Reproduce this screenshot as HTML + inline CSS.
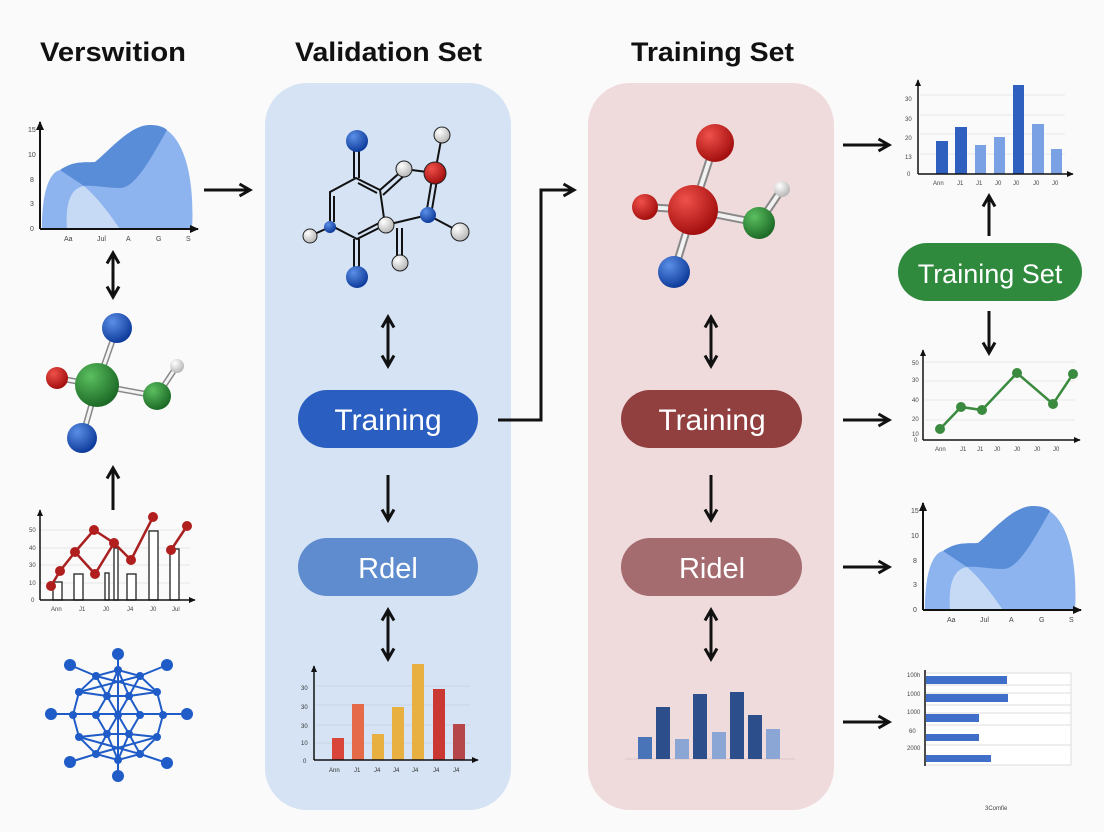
<!DOCTYPE html>
<html><head><meta charset="utf-8"><style>
html,body{margin:0;padding:0;background:#fafafa;}
svg{display:block;font-family:"Liberation Sans",sans-serif;}
</style></head><body>
<svg width="1104" height="832" viewBox="0 0 1104 832" xmlns="http://www.w3.org/2000/svg">
<defs>
<marker id="ah" viewBox="0 0 10 10" refX="8" refY="5" markerWidth="5" markerHeight="5" orient="auto-start-reverse"><path d="M1,1 L8,5 L1,9" fill="none" stroke="#111" stroke-width="2"/></marker>
<marker id="sm" viewBox="0 0 10 10" refX="8" refY="5" markerWidth="5" markerHeight="5" orient="auto"><path d="M0,1 L9,5 L0,9 Z" fill="#111"/></marker>
<radialGradient id="gb" cx="0.35" cy="0.3" r="0.7"><stop offset="0" stop-color="#5b8fe6"/><stop offset="1" stop-color="#0f3c9c"/></radialGradient>
<radialGradient id="gr" cx="0.35" cy="0.3" r="0.7"><stop offset="0" stop-color="#f0504a"/><stop offset="1" stop-color="#a4100f"/></radialGradient>
<radialGradient id="gg" cx="0.35" cy="0.3" r="0.7"><stop offset="0" stop-color="#5bbf5f"/><stop offset="1" stop-color="#1d6b27"/></radialGradient>
<radialGradient id="gw" cx="0.35" cy="0.3" r="0.7"><stop offset="0" stop-color="#ffffff"/><stop offset="1" stop-color="#b8b8b8"/></radialGradient>
</defs>
<rect width="1104" height="832" fill="#fafafa"/>

<!-- titles -->
<text x="40" y="61" font-size="27" font-weight="bold" fill="#111" textLength="146" lengthAdjust="spacingAndGlyphs">Verswition</text>
<text x="295" y="61" font-size="27" font-weight="bold" fill="#111" textLength="187" lengthAdjust="spacingAndGlyphs">Validation Set</text>
<text x="631" y="61" font-size="27" font-weight="bold" fill="#111" textLength="163" lengthAdjust="spacingAndGlyphs">Training Set</text>

<!-- panels -->
<rect x="265" y="83" width="246" height="727" rx="42" fill="#d5e3f4"/>
<rect x="588" y="83" width="246" height="727" rx="42" fill="#efdbdc"/>

<!-- left area chart -->
<g id="area">
<path d="M42,229 C42,190 50,172 60,170 C75,160 85,163 95,162 C110,150 130,125 150,125 C185,125 195,180 192,229 Z" fill="#8db4ee"/>
<path d="M60,170 C75,160 85,163 95,162 C110,150 130,125 150,125 C160,125 165,128 167,130 C150,160 135,188 120,188 C105,188 95,185 84,186 Z" fill="#5a8dd8"/>
<path d="M67,229 C65,200 72,188 84,186 C100,200 110,215 120,229 Z" fill="#c6daf6"/>
<line x1="40" y1="229" x2="40" y2="122" stroke="#111" stroke-width="2" marker-end="url(#sm)"/>
<line x1="40" y1="229" x2="198" y2="229" stroke="#111" stroke-width="2" marker-end="url(#sm)"/>
<g font-size="7" fill="#444"><text x="28" y="132">15</text><text x="28" y="157">10</text><text x="30" y="182">8</text><text x="30" y="206">3</text><text x="30" y="231">0</text>
<text x="64" y="241">Aa</text><text x="97" y="241">Jul</text><text x="126" y="241">A</text><text x="156" y="241">G</text><text x="186" y="241">S</text></g>
</g>
<use href="#area" transform="translate(883,381)"/>

<!-- left molecule -->
<g stroke="#888" stroke-width="6" stroke-linecap="round">
<line x1="97" y1="385" x2="117" y2="328"/><line x1="97" y1="385" x2="57" y2="378"/><line x1="97" y1="385" x2="157" y2="396"/><line x1="157" y1="396" x2="177" y2="366"/><line x1="97" y1="385" x2="82" y2="438"/></g>
<g stroke="#f4f4f4" stroke-width="3" stroke-linecap="round">
<line x1="97" y1="385" x2="117" y2="328"/><line x1="97" y1="385" x2="57" y2="378"/><line x1="97" y1="385" x2="157" y2="396"/><line x1="157" y1="396" x2="177" y2="366"/><line x1="97" y1="385" x2="82" y2="438"/></g>
<circle cx="117" cy="328" r="15" fill="url(#gb)"/><circle cx="57" cy="378" r="11" fill="url(#gr)"/><circle cx="177" cy="366" r="7" fill="url(#gw)"/><circle cx="157" cy="396" r="14" fill="url(#gg)"/><circle cx="97" cy="385" r="22" fill="url(#gg)"/><circle cx="82" cy="438" r="15" fill="url(#gb)"/>

<!-- left line/bar chart -->
<g stroke="#e6e6e6" stroke-width="1"><line x1="40" y1="530" x2="190" y2="530"/><line x1="40" y1="548" x2="190" y2="548"/><line x1="40" y1="565" x2="190" y2="565"/><line x1="40" y1="583" x2="190" y2="583"/></g>
<g fill="#fff" stroke="#222" stroke-width="1.3">
<rect x="53" y="582" width="9" height="18"/><rect x="74" y="574" width="9" height="26"/><rect x="105" y="573" width="4" height="27"/><rect x="114" y="548" width="4" height="52"/><rect x="127" y="574" width="9" height="26"/><rect x="149" y="531" width="9" height="69"/><rect x="170" y="549" width="9" height="51"/></g>
<g fill="none" stroke="#a82020" stroke-width="2.5"><polyline points="51,586 60,571 75,552 95,574 114,543 131,560 153,517"/><polyline points="75,552 94,530 114,543"/><polyline points="171,550 187,526"/></g>
<g fill="#b01e1e"><circle cx="51" cy="586" r="5"/><circle cx="60" cy="571" r="5"/><circle cx="75" cy="552" r="5"/><circle cx="95" cy="574" r="5"/><circle cx="94" cy="530" r="5"/><circle cx="114" cy="543" r="5"/><circle cx="131" cy="560" r="5"/><circle cx="153" cy="517" r="5"/><circle cx="171" cy="550" r="5"/><circle cx="187" cy="526" r="5"/></g>
<line x1="40" y1="600" x2="40" y2="510" stroke="#111" stroke-width="1.5" marker-end="url(#sm)"/>
<line x1="40" y1="600" x2="195" y2="600" stroke="#111" stroke-width="1.5" marker-end="url(#sm)"/>
<g font-size="6" fill="#444"><text x="29" y="532">50</text><text x="29" y="550">40</text><text x="29" y="567">30</text><text x="29" y="585">10</text><text x="31" y="602">0</text>
<text x="51" y="611">Ann</text><text x="79" y="611">J1</text><text x="103" y="611">J0</text><text x="127" y="611">J4</text><text x="150" y="611">J0</text><text x="172" y="611">Jul</text></g>

<!-- network -->
<g stroke="#1f5cc8" stroke-width="2" fill="none">
<line x1="51" y1="714" x2="187" y2="714"/><line x1="118" y1="654" x2="118" y2="776"/>
<line x1="70" y1="665" x2="96" y2="676"/><line x1="167" y1="665" x2="140" y2="676"/><line x1="70" y1="762" x2="96" y2="754"/><line x1="167" y1="763" x2="140" y2="754"/>
<polygon points="163,715 157,692 140,676 118,670 96,676 79,692 73,715 79,737 96,754 118,760 140,754 157,737"/>
<polygon points="140,715 129,696 107,696 96,715 107,734 129,734"/>
<path d="M96,676 L107,696 L118,715 L129,734 L140,754 M140,676 L129,696 L118,715 L107,734 L96,754 M79,692 L107,696 M157,692 L129,696 M79,737 L107,734 M157,737 L129,734 M96,676 L157,692 M140,676 L79,692 M96,754 L157,737 M140,754 L79,737 M118,670 L107,696 M118,670 L129,696 M118,760 L107,734 M118,760 L129,734"/>
</g>
<g fill="#1f5cc8"><circle cx="118" cy="654" r="6"/><circle cx="118" cy="776" r="6"/><circle cx="51" cy="714" r="6"/><circle cx="187" cy="714" r="6"/><circle cx="70" cy="665" r="6"/><circle cx="167" cy="665" r="6"/><circle cx="70" cy="762" r="6"/><circle cx="167" cy="763" r="6"/>
<circle cx="163" cy="715" r="4"/><circle cx="157" cy="692" r="4"/><circle cx="140" cy="676" r="4"/><circle cx="118" cy="670" r="4"/><circle cx="96" cy="676" r="4"/><circle cx="79" cy="692" r="4"/><circle cx="73" cy="715" r="4"/><circle cx="79" cy="737" r="4"/><circle cx="96" cy="754" r="4"/><circle cx="118" cy="760" r="4"/><circle cx="140" cy="754" r="4"/><circle cx="157" cy="737" r="4"/>
<circle cx="140" cy="715" r="4"/><circle cx="129" cy="696" r="4"/><circle cx="107" cy="696" r="4"/><circle cx="96" cy="715" r="4"/><circle cx="107" cy="734" r="4"/><circle cx="129" cy="734" r="4"/><circle cx="118" cy="715" r="4"/></g>

<!-- validation molecule -->
<g stroke="#111" stroke-width="2" fill="none">
<polygon points="356,178 380,190 385,225 357,239 330,225 330,192"/>
<line x1="334" y1="196" x2="334" y2="222"/><line x1="358" y1="234" x2="381" y2="222"/><line x1="358" y1="183" x2="377" y2="193"/>
<line x1="354" y1="178" x2="354" y2="141"/><line x1="359" y1="178" x2="359" y2="141"/>
<line x1="354" y1="239" x2="354" y2="277"/><line x1="359" y1="239" x2="359" y2="277"/>
<line x1="330" y1="227" x2="310" y2="236"/>
<line x1="380" y1="190" x2="404" y2="169"/><line x1="383" y1="195" x2="406" y2="174"/>
<line x1="404" y1="169" x2="435" y2="173"/><line x1="435" y1="173" x2="442" y2="135"/>
<line x1="433" y1="173" x2="426" y2="215"/><line x1="438" y1="174" x2="431" y2="215"/>
<line x1="386" y1="225" x2="428" y2="215"/><line x1="428" y1="215" x2="460" y2="232"/>
<line x1="397" y1="228" x2="397" y2="263"/><line x1="402" y1="228" x2="402" y2="263"/>
</g>
<circle cx="357" cy="141" r="11" fill="url(#gb)"/><circle cx="357" cy="277" r="11" fill="url(#gb)"/><circle cx="330" cy="227" r="6" fill="url(#gb)"/><circle cx="310" cy="236" r="7" fill="url(#gw)" stroke="#222"/>
<circle cx="404" cy="169" r="8" fill="url(#gw)" stroke="#222"/><circle cx="435" cy="173" r="11" fill="url(#gr)" stroke="#222"/><circle cx="442" cy="135" r="8" fill="url(#gw)" stroke="#222"/><circle cx="428" cy="215" r="8" fill="url(#gb)"/><circle cx="460" cy="232" r="9" fill="url(#gw)" stroke="#222"/><circle cx="386" cy="225" r="8" fill="url(#gw)" stroke="#222"/><circle cx="400" cy="263" r="8" fill="url(#gw)" stroke="#222"/>

<!-- training molecule -->
<g stroke="#888" stroke-width="8" stroke-linecap="round"><line x1="693" y1="210" x2="715" y2="143"/><line x1="693" y1="210" x2="645" y2="207"/><line x1="693" y1="210" x2="759" y2="223"/><line x1="759" y1="223" x2="782" y2="189"/><line x1="693" y1="210" x2="674" y2="272"/></g>
<g stroke="#f2f2f2" stroke-width="4" stroke-linecap="round"><line x1="693" y1="210" x2="715" y2="143"/><line x1="693" y1="210" x2="645" y2="207"/><line x1="693" y1="210" x2="759" y2="223"/><line x1="759" y1="223" x2="782" y2="189"/><line x1="693" y1="210" x2="674" y2="272"/></g>
<circle cx="715" cy="143" r="19" fill="url(#gr)"/><circle cx="645" cy="207" r="13" fill="url(#gr)"/><circle cx="782" cy="189" r="8" fill="url(#gw)"/><circle cx="759" cy="223" r="16" fill="url(#gg)"/><circle cx="674" cy="272" r="16" fill="url(#gb)"/><circle cx="693" cy="210" r="25" fill="url(#gr)"/>

<!-- pills -->
<rect x="298" y="390" width="180" height="58" rx="29" fill="#2a5fc1"/>
<text x="388" y="430" font-size="30" fill="#fff" text-anchor="middle">Training</text>
<rect x="298" y="538" width="180" height="58" rx="29" fill="#5f8cce"/>
<text x="388" y="578" font-size="29" fill="#fff" text-anchor="middle">Rdel</text>
<rect x="621" y="390" width="181" height="58" rx="29" fill="#923f3f"/>
<text x="712" y="430" font-size="30" fill="#fff" text-anchor="middle">Training</text>
<rect x="621" y="538" width="181" height="58" rx="29" fill="#a56c70"/>
<text x="712" y="578" font-size="29" fill="#fff" text-anchor="middle">Ridel</text>
<rect x="898" y="243" width="184" height="58" rx="29" fill="#2f8a3e"/>
<text x="990" y="283" font-size="27" fill="#fff" text-anchor="middle">Training Set</text>

<!-- arrows -->
<g stroke="#111" stroke-width="3" fill="none">
<line x1="204" y1="190" x2="250" y2="190" marker-end="url(#ah)"/>
<line x1="113" y1="253" x2="113" y2="297" marker-start="url(#ah)" marker-end="url(#ah)"/>
<line x1="113" y1="510" x2="113" y2="468" marker-end="url(#ah)"/>
<line x1="388" y1="317" x2="388" y2="366" marker-start="url(#ah)" marker-end="url(#ah)"/>
<line x1="711" y1="317" x2="711" y2="366" marker-start="url(#ah)" marker-end="url(#ah)"/>
<line x1="388" y1="475" x2="388" y2="520" marker-end="url(#ah)"/>
<line x1="711" y1="475" x2="711" y2="520" marker-end="url(#ah)"/>
<line x1="388" y1="610" x2="388" y2="659" marker-start="url(#ah)" marker-end="url(#ah)"/>
<line x1="711" y1="610" x2="711" y2="659" marker-start="url(#ah)" marker-end="url(#ah)"/>
<polyline points="498,420 541,420 541,190 574,190" marker-end="url(#ah)"/>
<line x1="843" y1="145" x2="889" y2="145" marker-end="url(#ah)"/>
<line x1="843" y1="420" x2="889" y2="420" marker-end="url(#ah)"/>
<line x1="843" y1="567" x2="889" y2="567" marker-end="url(#ah)"/>
<line x1="843" y1="722" x2="889" y2="722" marker-end="url(#ah)"/>
<line x1="989" y1="236" x2="989" y2="196" marker-end="url(#ah)"/>
<line x1="989" y1="311" x2="989" y2="353" marker-end="url(#ah)"/>
</g>

<!-- top right bar chart -->
<g stroke="#e8e8e8"><line x1="920" y1="95" x2="1065" y2="95"/><line x1="920" y1="115" x2="1065" y2="115"/><line x1="920" y1="134" x2="1065" y2="134"/><line x1="920" y1="154" x2="1065" y2="154"/></g>
<rect x="936" y="141" width="12" height="33" fill="#2f5fbf"/><rect x="955" y="127" width="12" height="47" fill="#2f5fbf"/><rect x="975" y="145" width="11" height="29" fill="#7aa1e4"/><rect x="994" y="137" width="11" height="37" fill="#7aa1e4"/><rect x="1013" y="85" width="11" height="89" fill="#2f5fbf"/><rect x="1032" y="124" width="12" height="50" fill="#7aa1e4"/><rect x="1051" y="149" width="11" height="25" fill="#7aa1e4"/>
<line x1="918" y1="174" x2="918" y2="80" stroke="#111" stroke-width="1.5" marker-end="url(#sm)"/>
<line x1="918" y1="174" x2="1073" y2="174" stroke="#111" stroke-width="1.5" marker-end="url(#sm)"/>
<g font-size="6" fill="#444"><text x="905" y="101">30</text><text x="905" y="121">30</text><text x="905" y="140">20</text><text x="905" y="159">13</text><text x="907" y="176">0</text>
<text x="933" y="185">Ann</text><text x="957" y="185">J1</text><text x="976" y="185">J1</text><text x="995" y="185">J0</text><text x="1013" y="185">J0</text><text x="1033" y="185">J0</text><text x="1052" y="185">J0</text></g>

<!-- green line chart -->
<g stroke="#e8e8e8"><line x1="925" y1="362" x2="1075" y2="362"/><line x1="925" y1="381" x2="1075" y2="381"/><line x1="925" y1="400" x2="1075" y2="400"/><line x1="925" y1="420" x2="1075" y2="420"/></g>
<polyline points="940,429 961,407 982,410 1017,373 1053,404 1073,374" fill="none" stroke="#3a8a3f" stroke-width="2.5"/>
<g fill="#3a8a3f"><circle cx="940" cy="429" r="5"/><circle cx="961" cy="407" r="5"/><circle cx="982" cy="410" r="5"/><circle cx="1017" cy="373" r="5"/><circle cx="1053" cy="404" r="5"/><circle cx="1073" cy="374" r="5"/></g>
<line x1="923" y1="440" x2="923" y2="350" stroke="#111" stroke-width="1.5" marker-end="url(#sm)"/>
<line x1="923" y1="440" x2="1080" y2="440" stroke="#111" stroke-width="1.5" marker-end="url(#sm)"/>
<g font-size="6" fill="#444"><text x="912" y="365">50</text><text x="912" y="382">30</text><text x="912" y="402">40</text><text x="912" y="421">20</text><text x="912" y="436">10</text><text x="914" y="442">0</text>
<text x="935" y="451">Ann</text><text x="960" y="451">J1</text><text x="977" y="451">J1</text><text x="994" y="451">J0</text><text x="1014" y="451">J0</text><text x="1034" y="451">J0</text><text x="1053" y="451">J0</text></g>

<!-- horizontal bar chart -->
<rect x="925" y="673" width="146" height="92" fill="#fff" stroke="#ddd"/>
<g stroke="#ddd"><line x1="925" y1="685" x2="1071" y2="685"/><line x1="925" y1="693" x2="1071" y2="693"/><line x1="925" y1="705" x2="1071" y2="705"/><line x1="925" y1="713" x2="1071" y2="713"/><line x1="925" y1="725" x2="1071" y2="725"/><line x1="925" y1="745" x2="1071" y2="745"/></g>
<g fill="#3f6fc9"><rect x="926" y="676" width="81" height="8"/><rect x="926" y="694" width="82" height="8"/><rect x="926" y="714" width="53" height="8"/><rect x="926" y="734" width="53" height="7"/><rect x="926" y="755" width="65" height="7"/></g>
<line x1="925" y1="670" x2="925" y2="766" stroke="#111" stroke-width="1.5"/>
<g font-size="6" fill="#444"><text x="907" y="677">100h</text><text x="907" y="696">1000</text><text x="907" y="714">1000</text><text x="909" y="733">60</text><text x="907" y="750">2000</text><text x="985" y="810">3Comfie</text></g>

<!-- validation bar chart -->
<g stroke="#c9d5e4"><line x1="316" y1="686" x2="470" y2="686"/><line x1="316" y1="705" x2="470" y2="705"/><line x1="316" y1="725" x2="470" y2="725"/><line x1="316" y1="743" x2="470" y2="743"/></g>
<rect x="332" y="738" width="12" height="22" fill="#d9453a"/><rect x="352" y="704" width="12" height="56" fill="#e56a4a"/><rect x="372" y="734" width="12" height="26" fill="#e8b040"/><rect x="392" y="707" width="12" height="53" fill="#e8b040"/><rect x="412" y="664" width="12" height="96" fill="#e8b040"/><rect x="433" y="689" width="12" height="71" fill="#c93832"/><rect x="453" y="724" width="12" height="36" fill="#b5474a"/>
<line x1="314" y1="760" x2="314" y2="666" stroke="#111" stroke-width="1.5" marker-end="url(#sm)"/>
<line x1="314" y1="760" x2="478" y2="760" stroke="#111" stroke-width="1.5" marker-end="url(#sm)"/>
<g font-size="6" fill="#333"><text x="301" y="690">30</text><text x="301" y="709">30</text><text x="301" y="728">30</text><text x="301" y="745">10</text><text x="303" y="763">0</text>
<text x="329" y="772">Ann</text><text x="354" y="772">J1</text><text x="374" y="772">J4</text><text x="393" y="772">J4</text><text x="412" y="772">J4</text><text x="433" y="772">J4</text><text x="453" y="772">J4</text></g>

<!-- training bar chart -->
<line x1="625" y1="759" x2="795" y2="759" stroke="#dcc5c7"/>
<rect x="638" y="737" width="14" height="22" fill="#4a74b8"/><rect x="656" y="707" width="14" height="52" fill="#2c4f8c"/><rect x="675" y="739" width="14" height="20" fill="#8ba6d4"/><rect x="693" y="694" width="14" height="65" fill="#2c4f8c"/><rect x="712" y="732" width="14" height="27" fill="#8ba6d4"/><rect x="730" y="692" width="14" height="67" fill="#2c4f8c"/><rect x="748" y="715" width="14" height="44" fill="#2c4f8c"/><rect x="766" y="729" width="14" height="30" fill="#8ba6d4"/>
</svg>
</body></html>
